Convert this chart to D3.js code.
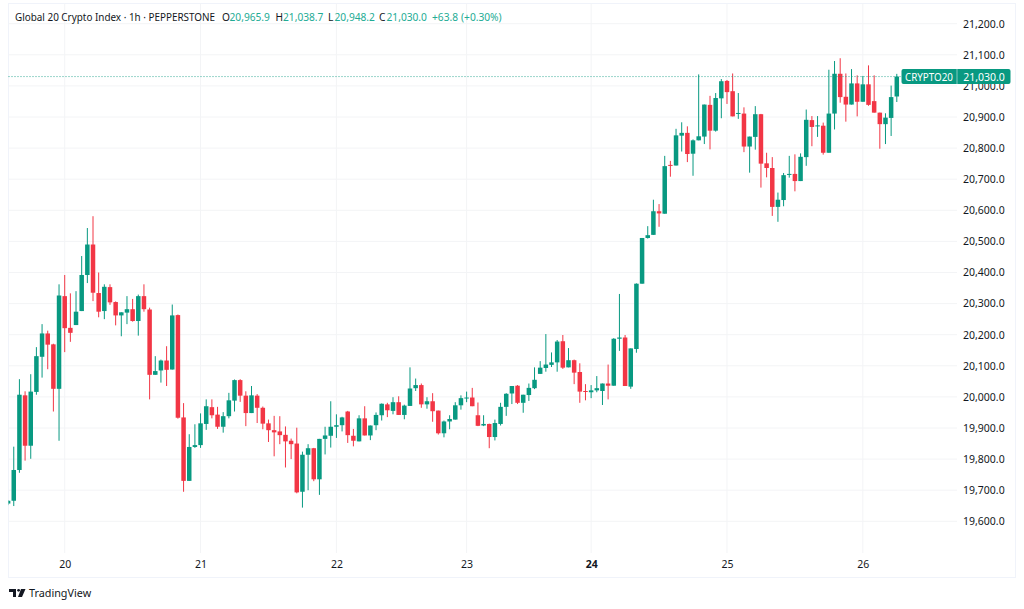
<!DOCTYPE html>
<html><head><meta charset="utf-8">
<style>html,body{margin:0;padding:0;background:#fff}svg{display:block}text{font-family:"Noto Sans",sans-serif}</style>
<script src="https://d3js.org/d3.v7.min.js"></script></head><body>
<script>
const opens=[19657,19666,19765,20005,19843,20016,20129,20204,20169,20026,20324,20222,20231,20276,20392,20490,20334,20276,20353,20305,20262,20271,20282,20244,20324,20281,20071,20085,20117,20088,20263,19934,19730,19839,19845,19913,19967,19943,19904,19938,19988,20054,20004,19948,20004,19965,19915,19893,19889,19878,19859,19850,19695,19814,19835,19735,19865,19875,19904,19909,19953,19875,19857,19931,19876,19909,19941,19976,19955,19983,19942,19971,20028,20038,19976,19986,19956,19883,19921,19927,19973,19997,19998,19941,19908,19913,19871,19913,19968,20011,20036,19981,20006,20028,20074,20093,20103,20111,20179,20095,20118,20080,20019,20015,20021,20019,20043,20036,20187,20191,20033,20154,20364,20511,20521,20597,20589,20746,20744,20840,20849,20782,20825,20837,20939,20856,20960,21016,20983,20912,20911,20805,20836,20909,20751,20736,20611,20633,20716,20717,20694,20771,20890,20872,20872,20785,20911,21039,20965,20940,21008,20949,21005,20951,20914,20877,20897,20966];
const highs=[19668,19840,20057,20018,20073,20160,20234,20213,20171,20362,20392,20333,20340,20453,20543,20581,20400,20362,20362,20307,20272,20324,20315,20329,20362,20287,20131,20120,20163,20297,20265,19980,19880,19912,19947,19992,19992,19968,19951,20013,20056,20057,20018,20035,20009,19969,19927,19939,19938,19905,19866,19901,19824,19848,19836,19865,19904,19986,19944,19936,19955,19897,19941,19970,19908,19950,19979,19981,19999,20002,19975,20095,20059,20043,19999,20012,19956,19924,19941,19983,20005,20017,20029,19982,19941,19914,19927,19981,20012,20035,20038,20007,20043,20095,20115,20202,20143,20183,20199,20157,20120,20108,20041,20038,20067,20043,20104,20189,20331,20199,20156,20365,20511,20549,20634,20620,20775,20759,20862,20883,20870,20828,21037,20940,20968,20977,21022,21019,21040,20977,20931,20837,20935,20910,20785,20771,20657,20720,20775,20780,20783,20924,20903,20903,20882,21052,21080,21089,21040,21054,21034,21032,21066,21034,20914,20912,21001,21038.7];
const lows=[19652,19649,19756,19795,19801,20007,20062,20089,19953,19859,20144,20177,20231,20276,20366,20308,20256,20250,20296,20230,20195,20234,20242,20197,20274,19992,20071,20046,20035,20088,19930,19695,19730,19836,19836,19894,19931,19897,19885,19931,19953,19984,19906,19948,19916,19896,19855,19809,19848,19773,19800,19690,19644,19700,19729,19685,19815,19837,19868,19889,19852,19841,19857,19876,19861,19893,19924,19935,19944,19942,19928,19971,20019,19965,19962,19920,19879,19870,19896,19927,19959,19983,19970,19906,19906,19835,19860,19908,19939,19977,19977,19949,19987,20025,20074,20081,20096,20081,20090,20095,20041,19981,19989,19996,20015,19974,19992,20036,20148,20035,20026,20142,20364,20509,20521,20547,20589,20708,20744,20789,20755,20711,20825,20813,20796,20853,20896,20942,20902,20894,20787,20721,20795,20673,20706,20582,20563,20613,20705,20661,20694,20743,20806,20836,20779,20785,20860,20946,20885,20940,20902,20949,20936,20914,20798,20813,20839,20948.2];
const closes=[19666,19765,20007,19843,20017,20131,20204,20168,20026,20326,20221,20206,20274,20392,20490,20335,20274,20354,20304,20262,20272,20282,20244,20324,20282,20071,20083,20117,20087,20262,19933,19730,19839,19845,19915,19970,19941,19904,19938,19989,20054,20004,19948,20005,19965,19914,19893,19886,19877,19857,19848,19693,19814,19835,19735,19865,19876,19904,19909,19934,19877,19859,19931,19876,19908,19942,19978,19957,19983,19942,19972,20027,20038,19976,19986,19954,19883,19921,19929,19973,19996,19998,19970,19907,19913,19871,19916,19968,20010,20035,19981,20007,20029,20055,20094,20104,20111,20178,20094,20118,20078,20017,20018,20021,20028,20043,20036,20187,20191,20035,20156,20364,20511,20520,20597,20590,20742,20745,20841,20849,20781,20825,20838,20940,20856,20961,21015,20980,20902,20913,20805,20837,20909,20750,20736,20611,20634,20713,20717,20694,20772,20891,20868,20873,20785,20911,21039,20964,20940,21008,20949,21005,20939,20914,20877,20898,20964,21030];
const priceTicks=[19600,19700,19800,19900,20000,20100,20200,20300,20400,20500,20600,20700,20800,20900,21000,21100,21200];
const dayIndex=[10,34,58,81,103,127,151];
const dayLabels=["20","21","22","23","24","25","26"];
const lastPrice=21030;
const titleText="Global 20 Crypto Index · 1h · PEPPERSTONE";
const legendKeys=["O","H","L","C"];
const legendVals=["20,965.9","21,038.7","20,948.2","21,030.0"];
const legendChange=["+63.8","(+0.30%)"];

const W=1024,H=609,up="#089981",down="#f23645",grid="#f3f4f6",frame="#f0f3fa",ink="#131722";
const svg=d3.select("body").append("svg").attr("width",W).attr("height",H);
const x=d3.scaleLinear().domain([0,157]).range([8.1,896.8]);
const y=d3.scaleLinear().domain([19600,21200]).range([521.3,23.7]);
const paneL=8.5,paneR=957,paneB=553;

svg.append("defs").append("clipPath").attr("id","pane").append("rect").attr("x",paneL).attr("y",3.5).attr("width",paneR-paneL).attr("height",paneB-3.5);

svg.append("rect").attr("x",8.5).attr("y",3.5).attr("width",1007).attr("height",574).attr("fill","#fff").attr("stroke",frame);

svg.append("g").selectAll("line").data(priceTicks).join("line")
 .attr("x1",paneL).attr("x2",paneR).attr("y1",d=>y(d)).attr("y2",d=>y(d)).attr("stroke",grid).attr("stroke-width",1);
svg.append("g").selectAll("line").data(dayIndex).join("line")
 .attr("x1",d=>x(d)).attr("x2",d=>x(d)).attr("y1",3.5).attr("y2",paneB).attr("stroke",grid).attr("stroke-width",1);

const c=d3.range(opens.length).map(i=>({i,o:opens[i],h:highs[i],l:lows[i],c:closes[i]}));
const col=d=>d.c>=d.o?up:down;
const g=svg.append("g").attr("clip-path","url(#pane)");
g.selectAll("line").data(c).join("line")
 .attr("x1",d=>x(d.i)).attr("x2",d=>x(d.i)).attr("y1",d=>y(d.h)).attr("y2",d=>y(d.l)).attr("stroke",col).attr("stroke-width",1);
const bw=4.5;
g.selectAll("rect").data(c).join("rect")
 .attr("x",d=>x(d.i)-bw/2).attr("width",bw)
 .attr("y",d=>y(Math.max(d.o,d.c))).attr("height",d=>Math.max(1,Math.abs(y(d.o)-y(d.c)))).attr("fill",col);

svg.append("line").attr("x1",paneL).attr("x2",902).attr("y1",y(lastPrice)).attr("y2",y(lastPrice))
 .attr("stroke",up).attr("stroke-width",1).attr("stroke-dasharray","1 2").attr("opacity",.8);

const axisY=d3.axisRight(y).tickValues(priceTicks).tickFormat(d3.format(",.1f")).tickSize(0).tickPadding(0);
const ga=svg.append("g").attr("transform","translate(963,0)").call(axisY);
ga.select(".domain").remove();
ga.selectAll("text").attr("font-size",10.5).attr("fill",ink).style("font-family",'"Noto Sans",sans-serif');

const axisX=d3.axisBottom(d3.scaleLinear().domain(x.domain()).range(x.range())).tickValues(dayIndex).tickFormat((d,i)=>dayLabels[i]).tickSize(0).tickPadding(0);
const gx=svg.append("g").attr("transform","translate(0,561)").call(axisX);
gx.select(".domain").remove();
gx.selectAll("text").attr("font-size",10.5).attr("fill",ink).style("font-family",'"Noto Sans",sans-serif')
 .attr("font-weight",(d,i)=>dayLabels[i]==="24"?700:400);

// last price tags
svg.append("rect").attr("x",901.5).attr("y",69).attr("width",109).attr("height",15).attr("rx",2).attr("fill",up);
svg.append("line").attr("x1",957).attr("x2",957).attr("y1",69).attr("y2",84).attr("stroke","#fff").attr("stroke-opacity",.5);
svg.append("text").attr("x",905).attr("y",80.5).attr("font-size",10).attr("textLength",48).attr("lengthAdjust","spacingAndGlyphs").attr("fill","#fff").text("CRYPTO20");
svg.append("text").attr("x",984).attr("y",80.5).attr("text-anchor","middle").attr("font-size",10.5).attr("fill","#fff").text(d3.format(",.1f")(lastPrice));

// legend
const tc="#22ab94",fs=10.2;
const lg=svg.append("g").attr("font-size",fs);
lg.append("text").attr("x",15).attr("y",21).attr("fill",ink).attr("font-size",10.2).attr("textLength",200).attr("lengthAdjust","spacingAndGlyphs").text(titleText);
[222,275.5,328,379].forEach((px,i)=>lg.append("text").attr("x",px).attr("y",21).attr("fill",ink).text(legendKeys[i]));
[229.5,283,334.5,386.5].forEach((px,i)=>lg.append("text").attr("x",px).attr("y",21).attr("fill",tc).text(legendVals[i]));
[432,461].forEach((px,i)=>lg.append("text").attr("x",px).attr("y",21).attr("fill",tc).text(legendChange[i]));

// TradingView attribution
const lgo=svg.append("g").attr("fill","#131722");
lgo.append("path").attr("d","M9 589H16V597H13V592H9Z");
lgo.append("circle").attr("cx",18.6).attr("cy",590.3).attr("r",1.4);
lgo.append("path").attr("d","M21 589H25.5L22 597H18Z");
svg.append("text").attr("x",29).attr("y",597).attr("font-size",10.8).attr("fill","#131722").text("TradingView");
</script></body></html>
